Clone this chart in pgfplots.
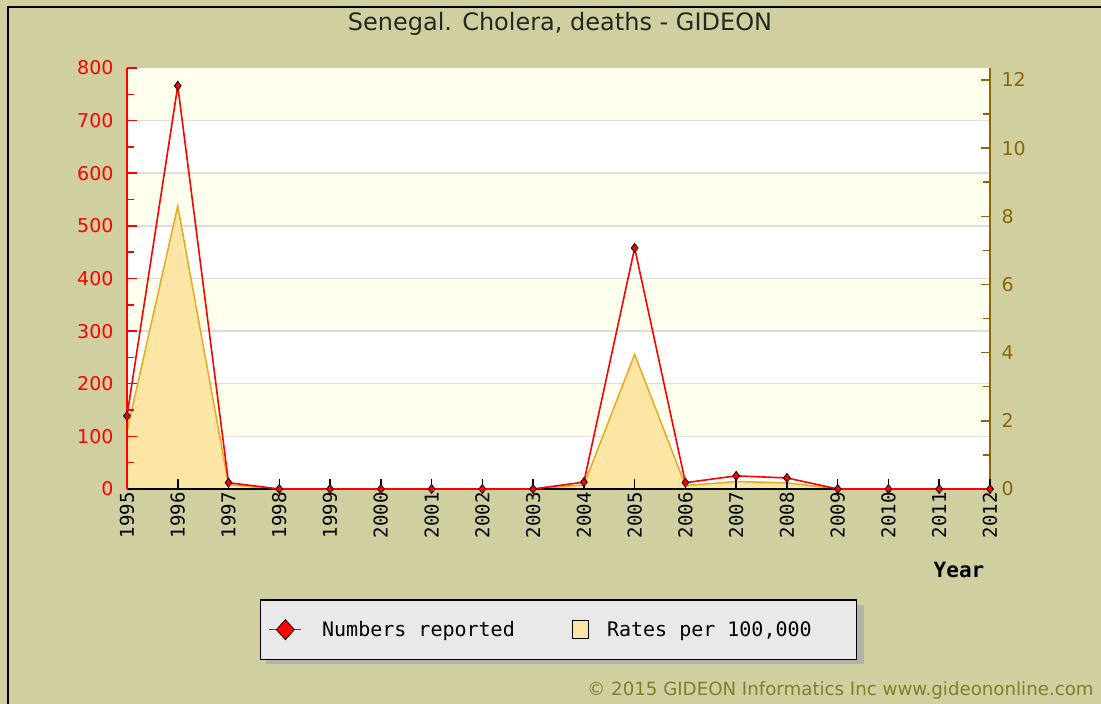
\documentclass[border=0pt]{standalone}
\usepackage{pgfplots}
\usepackage{pgfplotstable}
\pgfplotsset{compat=1.18}
\usepackage{fontspec}
\setmainfont{DejaVu Sans}
\newfontfamily\monof{DejaVu Sans Mono}
\definecolor{bgk}{RGB}{207,207,160}
\definecolor{bandY}{RGB}{255,255,238}
\definecolor{gridc}{RGB}{221,221,221}
\definecolor{brownc}{RGB}{139,101,8}
\definecolor{areaF}{RGB}{251,230,166}
\definecolor{areaL}{RGB}{232,170,30}
\definecolor{legbg}{RGB}{233,233,233}
\definecolor{copyc}{RGB}{128,128,40}
\definecolor{shadc}{RGB}{178,178,168}

\pgfplotstableread{
year num rate
1995 139 1.70
1996 766 8.30
1997 12 0.13
1998 0 0
1999 0 0
2000 0 0
2001 0 0
2002 0 0
2003 0 0
2004 13 0.12
2005 458 3.95
2006 12 0.10
2007 25 0.22
2008 21 0.18
2009 0 0
2010 0 0
2011 0 0
2012 0 0
}\datatab

\pgfplotsset{common/.style={at={(127pt,215pt)}, anchor=south west, scale only axis,
  width=863pt, height=421pt, xmin=1995, xmax=2012}}

\begin{document}
\begin{tikzpicture}[x=1pt,y=1pt]
\useasboundingbox (0,0) rectangle (1101,704);
\fill[bgk] (0,0) rectangle (1101,704);
\draw[black, line width=2pt] (8,0) -- (8,697) -- (1102,697);
\node[font=\fontsize{24}{28}\selectfont, text=black!85] at (560,680) {Senegal. Cholera, deaths - GIDEON};

% legend shadow
\fill[shadc] (266,40) rectangle (864,99);

% background bands and grid
\begin{axis}[common, ymin=0, ymax=800, hide axis]
\fill[white] (axis cs:1995,0) rectangle (axis cs:2012,100);
\fill[bandY] (axis cs:1995,100) rectangle (axis cs:2012,200);
\fill[white] (axis cs:1995,200) rectangle (axis cs:2012,300);
\fill[bandY] (axis cs:1995,300) rectangle (axis cs:2012,400);
\fill[white] (axis cs:1995,400) rectangle (axis cs:2012,500);
\fill[bandY] (axis cs:1995,500) rectangle (axis cs:2012,600);
\fill[white] (axis cs:1995,600) rectangle (axis cs:2012,700);
\fill[bandY] (axis cs:1995,700) rectangle (axis cs:2012,800);
\draw[gridc, line width=1.5pt] (axis cs:1995,100) -- (axis cs:2012,100);
\draw[gridc, line width=1.5pt] (axis cs:1995,200) -- (axis cs:2012,200);
\draw[gridc, line width=1.5pt] (axis cs:1995,300) -- (axis cs:2012,300);
\draw[gridc, line width=1.5pt] (axis cs:1995,400) -- (axis cs:2012,400);
\draw[gridc, line width=1.5pt] (axis cs:1995,500) -- (axis cs:2012,500);
\draw[gridc, line width=1.5pt] (axis cs:1995,600) -- (axis cs:2012,600);
\draw[gridc, line width=1.5pt] (axis cs:1995,700) -- (axis cs:2012,700);
\end{axis}

% rates (right axis)
\begin{axis}[common, ymin=0, ymax=12.35,
  axis x line=none, axis y line*=right,
  y axis line style={brownc, line width=2.5pt},
  ytick={0,2,...,12}, minor ytick={1,3,...,11},
  tick align=inside, major tick length=9pt, minor tick length=7pt,
  ytick style={brownc, line width=1.5pt},
  yticklabel style={text=brownc, font=\fontsize{19}{22}\selectfont, xshift=8pt},
  /pgf/number format/assume math mode=true]
\addplot[draw=areaL, fill=areaF, line width=1.5pt] table[x=year, y=rate]{\datatab} \closedcycle;
\end{axis}

% numbers (left axis)
\begin{axis}[common, clip=false, ymin=0, ymax=800,
  axis x line*=bottom, axis y line*=left,
  x axis line style={black, line width=1.5pt},
  y axis line style={red, line width=2.5pt},
  xtick={1995,1996,...,2012},
  ytick={0,100,...,800}, minor ytick={50,150,...,750},
  tick align=inside, major tick length=10pt, minor tick length=7pt,
  xtick style={black, line width=1.5pt},
  ytick style={red, line width=1.5pt},
  x tick label style={rotate=90, anchor=east, font=\monof\fontsize{19}{21}\selectfont, /pgf/number format/1000 sep={}},
  y tick label style={text=red, font=\fontsize{19}{22}\selectfont, xshift=-10pt},
  /pgf/number format/assume math mode=true,
  legend columns=2,
  legend style={at={(rel axis cs:0.154,-0.2613)}, anchor=north west,
    fill=legbg, draw=black, line width=1.5pt,
    font=\monof\fontsize{20}{24}\selectfont,
    inner xsep=8pt, inner ysep=19.5pt,
    /tikz/every even column/.append style={column sep=55pt}},
]
\addplot[red, line width=1.6pt, mark=diamond*, mark size=4.5pt,
  mark options={fill=red, draw=black, line width=0.8pt},
  legend image code/.code={
    \draw[red, line width=1.5pt] (6pt,0pt) -- (38pt,0pt);
    \draw[fill=red, draw=black, line width=0.8pt] (22pt,-10pt) -- (31pt,0pt) -- (22pt,10pt) -- (13pt,0pt) -- cycle;}
  ] table[x=year, y=num]{\datatab};
\addlegendentry{\hspace*{18pt}Numbers reported}
\addlegendimage{legend image code/.code={
    \draw[fill=areaF, draw=black, line width=1.2pt] (4pt,-9pt) rectangle (20pt,9pt);}}
\addlegendentry{\hspace*{16pt}Rates per 100,000\hspace*{35pt}}
\end{axis}

\node[font=\monof\bfseries\fontsize{21}{24}\selectfont] at (959,134) {Year};
\node[font=\fontsize{18.2}{21}\selectfont, text=copyc, anchor=base west, inner sep=0pt] at (587,8) {\textcopyright{} 2015 GIDEON Informatics Inc www.gideononline.com};
\end{tikzpicture}
\end{document}
